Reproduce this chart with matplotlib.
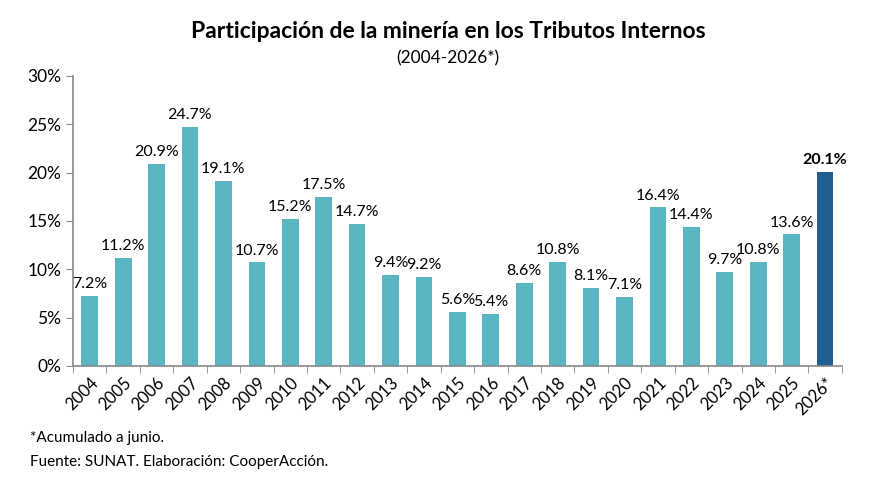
import matplotlib
matplotlib.use('Agg')
import matplotlib.pyplot as plt
import numpy as np

plt.rcParams['font.family'] = ['Lato', 'DejaVu Sans']

years = ['2004', '2005', '2006', '2007', '2008', '2009', '2010', '2011', '2012', '2013',
         '2014', '2015', '2016', '2017', '2018', '2019', '2020', '2021', '2022', '2023',
         '2024', '2025', '2026*']
values = [7.2, 11.2, 20.9, 24.7, 19.1, 10.7, 15.2, 17.5, 14.7, 9.4,
          9.2, 5.6, 5.4, 8.6, 10.8, 8.1, 7.1, 16.4, 14.4, 9.7,
          10.8, 13.6, 20.1]

teal = '#5bb6c3'
dark = '#1f5f92'
colors = [teal] * (len(years) - 1) + [dark]

fig = plt.figure(figsize=(8.96, 4.86), dpi=100)
ax = fig.add_axes([0.0815, 0.247, 0.858, 0.597])

x = np.arange(len(years))
ax.bar(x, values, width=0.5, color=colors)

for i, v in enumerate(values):
    last = i == len(values) - 1
    ax.text(i, v + 0.5, f'{v:.1f}%', ha='center', va='bottom', fontsize=11.5,
            fontweight='bold' if last else 'normal', color='black')

ax.set_xlim(-0.5, len(years) - 0.5)
ax.set_ylim(0, 30)
ax.set_yticks(range(0, 31, 5))
ax.set_yticklabels([f'{t}%' for t in range(0, 31, 5)], fontsize=12.5)

ax.set_xticks(x)
ax.set_xticklabels(years, rotation=45, ha='right', rotation_mode='anchor', fontsize=12)
ax.tick_params(axis='x', length=0, pad=6)
ax.set_xticks(np.arange(-0.5, len(years)), minor=True)
ax.tick_params(axis='x', which='minor', length=5, color='#898989', direction='out')
ax.tick_params(axis='y', length=5, color='#898989', direction='out')

for s in ['top', 'right']:
    ax.spines[s].set_visible(False)
for s in ['left', 'bottom']:
    ax.spines[s].set_color('#898989')
    ax.spines[s].set_linewidth(1.2)

fig.text(0.5, 0.935, 'Participación de la minería en los Tributos Internos',
         ha='center', va='center', fontsize=16.5, fontweight='bold')
fig.text(0.5, 0.88, '(2004-2026*)', ha='center', va='center', fontsize=12.5)

fig.text(0.033, 0.098, '*Acumulado a junio.', ha='left', va='center', fontsize=11)
fig.text(0.033, 0.05, 'Fuente: SUNAT. Elaboración: CooperAcción.', ha='left', va='center', fontsize=11)

fig.savefig('out.png', dpi=100)
